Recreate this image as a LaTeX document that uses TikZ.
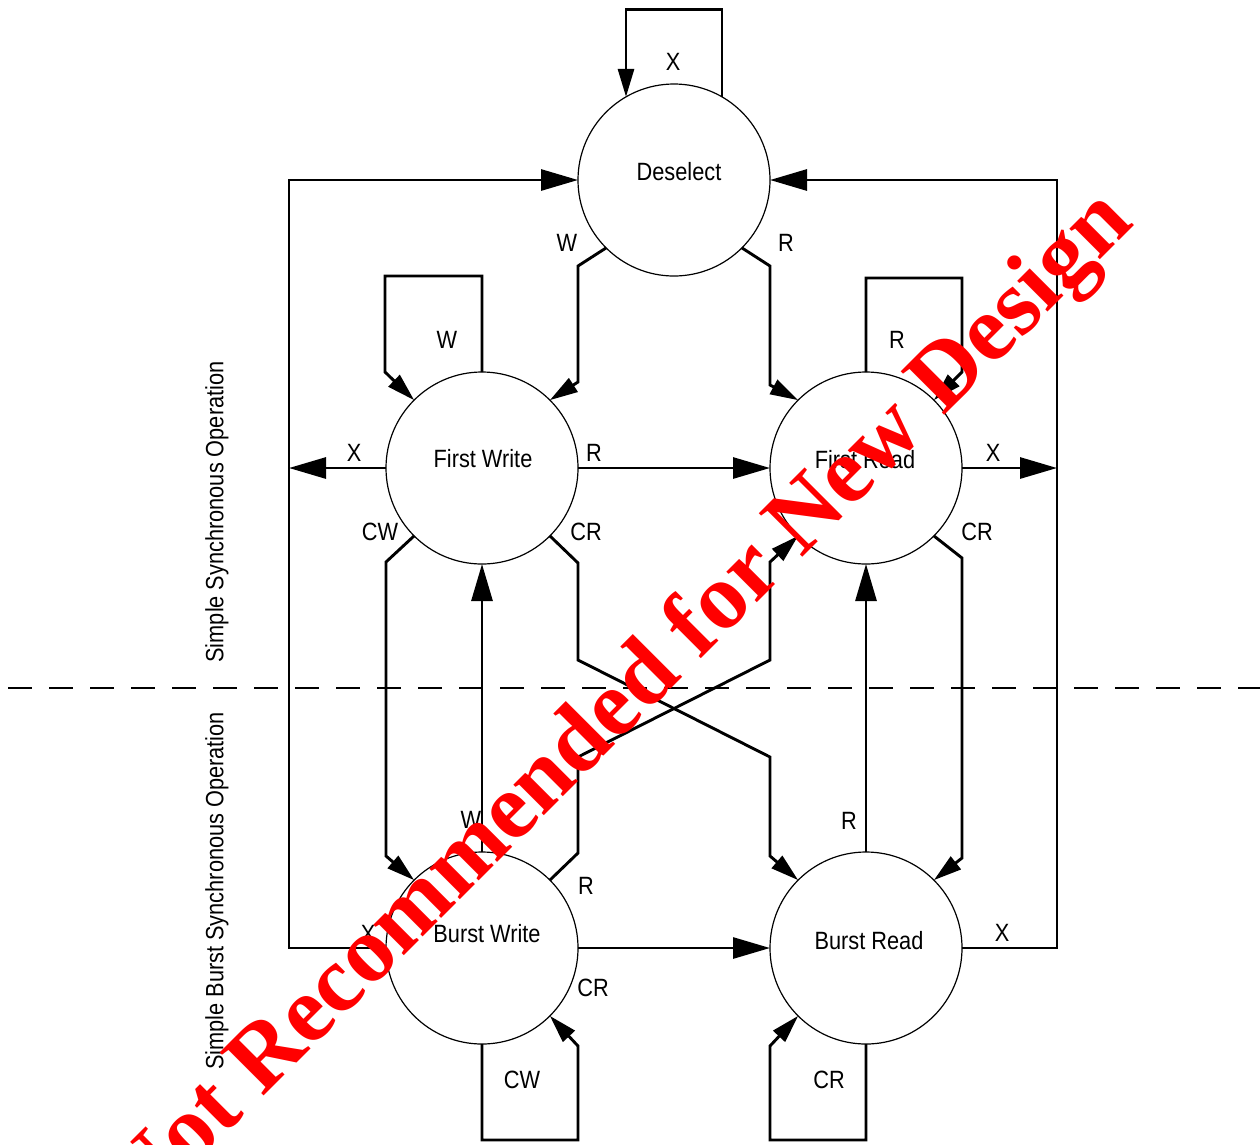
\documentclass[tikz,border=0pt]{standalone}
\usepackage{fontspec}
\setmainfont{Liberation Sans}[FakeStretch=0.87]
\newfontfamily\wmfont{Liberation Serif}
\usetikzlibrary{arrows.meta}
\definecolor{wmred}{RGB}{255,0,0}
\begin{document}
\begin{tikzpicture}[x=1pt,y=-1pt,
  state/.style={circle,draw,line width=1.2pt,minimum size=192pt,inner sep=0pt,outer sep=0pt},
  conn/.style={line width=2.9pt},
  big/.style={-{Triangle[length=37pt,width=21pt]}},
  small/.style={-{Triangle[length=28pt,width=16pt]}},
  lbl/.style={inner sep=0pt,font=\fontsize{25}{30}\selectfont},
]
\useasboundingbox (0,0) rectangle (1260,1144);
% states
\node[state] (ds) at (674,180) {};
\node[state] (fw) at (482,468) {};
\node[state] (fr) at (866,468) {};
\node[state] (bw) at (482,948) {};
\node[state] (br) at (866,948) {};
\node[lbl] (dsT) at (679,172) {Deselect};
\node[lbl] (fwT) at (483,459) {First Write};
\node[lbl] (frT) at (865,460) {First Read};
\node[lbl] (bwT) at (487,934) {Burst Write};
\node[lbl] (brT) at (869,941) {Burst Read};
% divider
\draw[line width=2pt,dash pattern=on 24pt off 17pt] (8,688) -- (1260,688);
% side labels
\node[lbl,rotate=90] (s1) at (217,512) {Simple Synchronous Operation};
\node[lbl,rotate=90] (s2) at (217,891) {Simple Burst Synchronous Operation};
% connectors
\draw[conn,small] (ds.60) -- ++(0,-87) -| (ds.120);
\draw[conn,small] (ds.225) -- (578,266) -- (578,382) -- (fw.45);
\draw[conn,small] (ds.-45) -- (770,266) -- (770,385) -- (fr.135);
\draw[conn,small] (fw.90) -- (482,276) -- (385,276) -- (385,372) -- (fw.135);
\draw[conn,small] (fr.90) -- (866,278) -- (962,278) -- (962,372) -- (fr.45);
\coordinate (LX) at (289,468);
\coordinate (RX) at (1057,468);
\draw[conn,big] (bw.180) -- (289,948) -- (289,180) -- (ds.180);
\draw[conn,big] (fw.180) -- (LX);
\draw[conn,big] (br.0) -- (1057,948) -- (1057,180) -- (ds.0);
\draw[conn,big] (fr.0) -- (RX);
\draw[conn,big] (fw.0) -- (fr.180);
\draw[conn,small] (fw.225) -- (386,562) -- (386,856) -- (bw.135);
\draw[conn,small] (fw.-45) -- (578,563) -- (578,660) -- (770,757) -- (770,856) -- (br.135);
\draw[conn,small] (bw.45) -- (578,853) -- (578,757) -- (770,660) -- (770,562) -- (fr.225);
\draw[conn,big] (bw.90) -- (fw.270);
\draw[conn,big] (br.90) -- (fr.270);
\draw[conn,small] (fr.-45) -- (962,558) -- (962,858) -- (br.45);
\draw[conn,big] (bw.0) -- (br.180);
\draw[conn,small] (bw.270) -- (482,1140) -- (578,1140) -- (578,1046) -- (bw.-45);
\draw[conn,small] (br.270) -- (866,1140) -- (770,1140) -- (770,1046) -- (br.225);
% connector labels
\node[lbl] (l1) at (673,62) {X};
\node[lbl] (l2) at (567,243) {W};
\node[lbl] (l3) at (786,243) {R};
\node[lbl] (l4) at (447,340) {W};
\node[lbl] (l5) at (897,340) {R};
\node[lbl] (l6) at (354,453) {X};
\node[lbl] (l7) at (594,453) {R};
\node[lbl] (l8) at (993,453) {X};
\node[lbl] (l9) at (380,532) {CW};
\node[lbl] (l10) at (586,532) {CR};
\node[lbl] (l11) at (977,532) {CR};
\node[lbl] (l12) at (471,820) {W};
\node[lbl] (l13) at (849,821) {R};
\node[lbl] (l14) at (586,886) {R};
\node[lbl] (l15) at (368,934) {X};
\node[lbl] (l16) at (1002,933) {X};
\node[lbl] (l17) at (593,988) {CR};
\node[lbl] (l18) at (522,1080) {CW};
\node[lbl] (l19) at (829,1080) {CR};
% watermark
\node[rotate=45,anchor=base,text=wmred,inner sep=0pt,
  font=\wmfont\bfseries\fontsize{94}{100}\selectfont] (wm) at (639,721) {Not Recommended for New Design};
\end{tikzpicture}
\end{document}
